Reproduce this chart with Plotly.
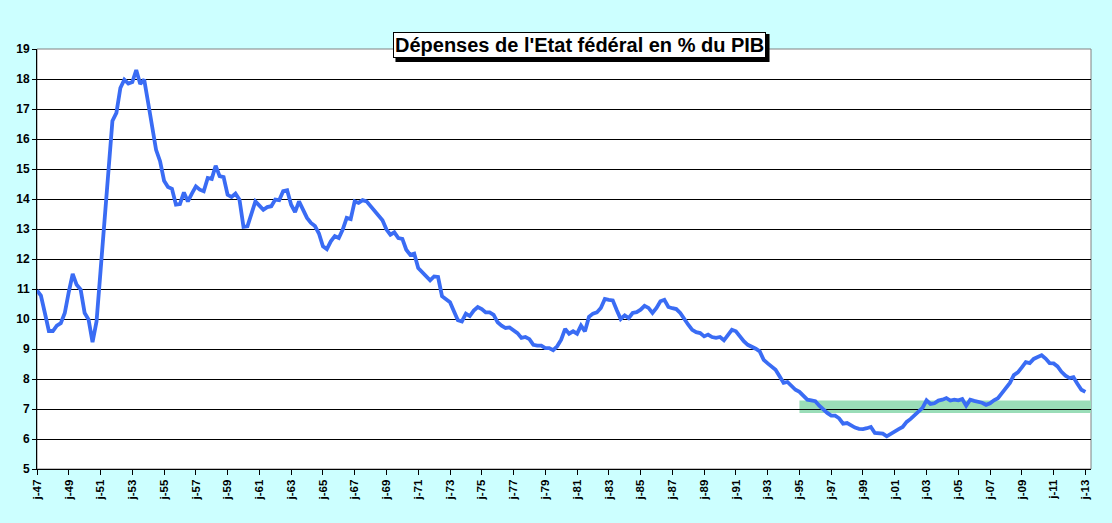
import pandas as pd
import plotly.graph_objects as go

# Federal spending in % of GDP, quarterly from 1947Q1
spend_1947_1956 = [10.95, 10.78, 10.2, 9.6, 9.6, 9.78, 9.86, 10.2, 10.9, 11.5,
                   11.14, 10.98, 10.2, 9.98, 9.23, 9.92, 11.6, 13.3, 15.26, 16.6,
                   16.87, 17.7, 17.98, 17.85, 17.9, 18.3, 17.83, 17.98, 17.2, 16.45,
                   15.64, 15.26, 14.61, 14.4, 14.34, 13.81, 13.83, 14.22, 13.92, 14.18]
spend_1957_1966 = [14.42, 14.31, 14.26, 14.7, 14.67, 15.11, 14.76, 14.73, 14.14, 14.07,
                   14.18, 13.98, 13.07, 13.09, 13.56, 13.92, 13.78, 13.64, 13.73, 13.76,
                   13.98, 13.96, 14.26, 14.29, 13.81, 13.56, 13.92, 13.64, 13.37, 13.2,
                   13.1, 12.85, 12.42, 12.33, 12.59, 12.76, 12.7, 12.98, 13.37, 13.33]
spend_1967_1976 = [13.92, 13.87, 13.96, 13.92, 13.76, 13.56, 13.44, 13.29, 12.98, 12.81,
                   12.89, 12.7, 12.67, 12.31, 12.14, 12.18, 11.7, 11.56, 11.42, 11.29,
                   11.42, 11.4, 10.76, 10.67, 10.56, 10.26, 9.96, 9.92, 10.18, 10.1,
                   10.28, 10.4, 10.33, 10.22, 10.22, 10.14, 9.89, 9.78, 9.7, 9.72]
spend_1977_1986 = [9.64, 9.53, 9.37, 9.4, 9.33, 9.14, 9.11, 9.11, 9.03, 9.03,
                   8.96, 9.09, 9.31, 9.67, 9.51, 9.59, 9.51, 9.78, 9.59, 10.07,
                   10.18, 10.22, 10.37, 10.67, 10.64, 10.62, 10.3, 10.0, 10.12, 10.03,
                   10.2, 10.23, 10.31, 10.44, 10.37, 10.2, 10.37, 10.59, 10.64, 10.4]
spend_1987_1996 = [10.36, 10.33, 10.2, 10.03, 9.81, 9.64, 9.56, 9.53, 9.42, 9.48,
                   9.4, 9.37, 9.4, 9.29, 9.48, 9.64, 9.59, 9.42, 9.26, 9.14,
                   9.09, 9.01, 8.92, 8.64, 8.52, 8.41, 8.31, 8.09, 7.87, 7.9,
                   7.76, 7.64, 7.57, 7.46, 7.31, 7.29, 7.26, 7.11, 6.98, 6.87]
spend_1997_2006 = [6.78, 6.78, 6.69, 6.51, 6.53, 6.44, 6.38, 6.34, 6.33, 6.36,
                   6.4, 6.2, 6.19, 6.18, 6.09, 6.18, 6.28, 6.33, 6.4, 6.57,
                   6.67, 6.78, 6.92, 7.04, 7.29, 7.17, 7.19, 7.28, 7.31, 7.36,
                   7.28, 7.31, 7.29, 7.33, 7.11, 7.31, 7.27, 7.24, 7.21, 7.14]
spend_2007_2013 = [7.19, 7.29, 7.36, 7.53, 7.69, 7.87, 8.13, 8.22, 8.39, 8.56,
                   8.53, 8.67, 8.73, 8.79, 8.68, 8.53, 8.52, 8.42, 8.24, 8.11,
                   8.03, 8.06, 7.84, 7.64, 7.57]

values = (spend_1947_1956 + spend_1957_1966 + spend_1967_1976 + spend_1977_1986
          + spend_1987_1996 + spend_1997_2006 + spend_2007_2013)
dates = pd.period_range("1947Q1", periods=len(values), freq="Q").to_timestamp()

tick_dates = [f"{y}-01-01" for y in range(1947, 2014, 2)]
tick_labels = ["j-47", "j-49", "j-51", "j-53", "j-55", "j-57", "j-59", "j-61", "j-63",
               "j-65", "j-67", "j-69", "j-71", "j-73", "j-75", "j-77", "j-79", "j-81",
               "j-83", "j-85", "j-87", "j-89", "j-91", "j-93", "j-95", "j-97", "j-99",
               "j-01", "j-03", "j-05", "j-07", "j-09", "j-11", "j-13"]
y_ticks = list(range(5, 20))

title_text = "Dépenses de l'Etat fédéral en % du PIB"

fig = go.Figure()
fig.add_trace(go.Scatter(x=dates, y=values, mode="lines",
                         line=dict(color="#3A6CF4", width=3.8),
                         hoverinfo="skip", showlegend=False))

fam = "Liberation Sans, Arial, sans-serif"
xfont = dict(family=fam, size=11.5, color="black", weight="bold")
yfont = dict(family=fam, size=12, color="black", weight="bold")

fig.update_layout(
    width=1112, height=523,
    paper_bgcolor="#CCFFFF", plot_bgcolor="white",
    margin=dict(l=37, r=21, t=49, b=54),
    showlegend=False,
    xaxis=dict(range=["1947-01-01", "2013-05-10"], tickvals=tick_dates, ticktext=tick_labels,
               tickangle=-90, tickfont=xfont, showgrid=False, zeroline=False,
               showline=True, linecolor="black", linewidth=1,
               ticks="outside", ticklen=5, tickcolor="black"),
    yaxis=dict(range=[5, 19], tickvals=y_ticks, tickfont=yfont,
               showgrid=True, gridcolor="black", gridwidth=1, zeroline=False,
               showline=True, linecolor="black", linewidth=1,
               ticks="outside", ticklen=4, tickcolor="black"),
    shapes=[
        dict(type="rect", xref="x", yref="y", x0="1995-01-01", x1="2013-05-10",
             y0=6.87, y1=7.28, fillcolor="#9ADDB8", line=dict(width=0), layer="below"),
        dict(type="rect", xref="paper", yref="paper", x0=0, x1=1, y0=0, y1=1,
             line=dict(color="#808080", width=1), layer="below"),
        # title box shadow
        dict(type="rect", xref="paper", yref="paper", x0=0.3401, x1=0.6950,
             y0=0.969, y1=1.0357, fillcolor="black", line=dict(width=0), layer="above"),
    ],
)

fig.add_annotation(xref="paper", yref="paper", x=0.5147, y=1.0095, text=title_text,
                   showarrow=False,
                   font=dict(family=fam, size=20, color="black", weight="bold"),
                   bgcolor="white", bordercolor="black", borderwidth=1, borderpad=1,
                   xanchor="center", yanchor="middle")

fig.write_html("out.html",
               config={"displayModeBar": False},
               post_script="document.body.style.margin='0';document.body.style.background='#CCFFFF';")
